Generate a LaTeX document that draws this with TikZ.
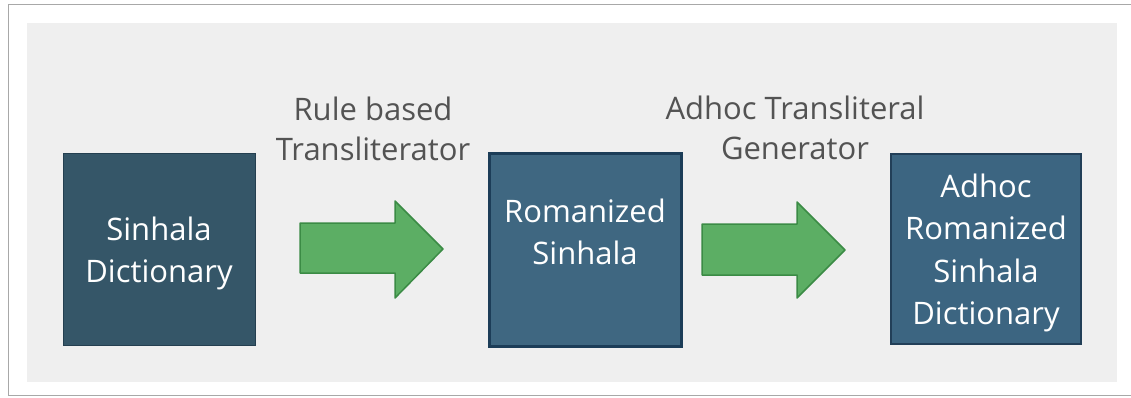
\documentclass[tikz,border=0pt]{standalone}
\usepackage{fontspec}
\setmainfont{Open Sans}
\newfontfamily\labelfont{Open Sans}
\newfontfamily\boxfont{Open Sans}
\definecolor{panel}{HTML}{EFEFEF}
\definecolor{frameline}{HTML}{A8A8A8}
\definecolor{labelgray}{HTML}{535353}
\definecolor{boxa}{HTML}{355668}
\definecolor{boxaedge}{HTML}{243F50}
\definecolor{boxb}{HTML}{3F6781}
\definecolor{boxbedge}{HTML}{1C3D58}
\definecolor{boxc}{HTML}{3C6581}
\definecolor{boxcedge}{HTML}{223F58}
\definecolor{arrowfill}{HTML}{5CAE64}
\definecolor{arrowedge}{HTML}{3B8B45}
\tikzset{
  boxtext/.style={text=white,font=\boxfont\fontsize{31}{42.5}\selectfont,align=center,inner sep=0pt},
  steplabel/.style={text=labelgray,font=\labelfont\fontsize{31}{40}\selectfont,align=center,inner sep=0pt},
  blockarrow/.style={fill=arrowfill,draw=arrowedge,line width=1.5pt,line join=round}
}
\begin{document}
\begin{tikzpicture}[x=1pt,y=-1pt]
\useasboundingbox (0,0) rectangle (1131,398);
\begin{scope}
\clip (0,0) rectangle (1131,398);
\draw[frameline,line width=1.5pt] (8.5,4.5) rectangle (1140,395.5);
\end{scope}
\fill[panel] (27,23) rectangle (1117,382);
% boxes
\node[draw=boxaedge,fill=boxa,line width=1pt,minimum width=192pt,minimum height=191pt,inner sep=0pt] (sd) at (159,249.5) {};
\node[boxtext] (sdtext) at (159,253.5) {Sinhala\\Dictionary};
\node[draw=boxbedge,fill=boxb,line width=3pt,minimum width=192pt,minimum height=192pt,inner sep=0pt] (rs) at (585,250) {};
\node[boxtext] (rstext) at (585,232) {Romanized\\Sinhala};
\node[draw=boxcedge,fill=boxc,line width=1.5pt,minimum width=190pt,minimum height=190pt,inner sep=0pt] (ard) at (986,249) {};
\node[boxtext] (ardtext) at (986,253) {Adhoc\\Romanized\\Sinhala\\Dictionary};
% labels
\node[steplabel] (rbt) at (373,128.5) {Rule based\\Transliterator};
\node[steplabel] (atg) at (795,128) {Adhoc Transliteral\\Generator};
% block arrows
\draw[blockarrow] (300,223) -- (395,223) -- (395,201) -- (443,249) -- (395,298) -- (395,273) -- (300,273) -- cycle;
\draw[blockarrow] (702,224) -- (797,224) -- (797,202) -- (845,250) -- (797,298) -- (797,275) -- (702,275) -- cycle;
\end{tikzpicture}
\end{document}
